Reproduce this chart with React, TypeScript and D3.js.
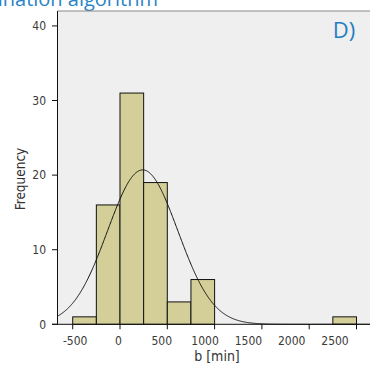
import React from "react";
import * as d3 from "d3";

const binStarts = [-500, -250, 0, 250, 500, 750, 2250];
const binWidth = 250;
const counts = [1, 16, 31, 19, 3, 6, 1];
const xTicks = [-500, 0, 500, 1000, 1500, 2000, 2500];
const yTicks = [0, 10, 20, 30, 40];
const fitMean = 240;
const fitSd = 371;
const titleText = "determination algorithm";
const panelLabel = "D)";
const xLabel = "b [min]";
const yLabel = "Frequency";

const W = 370;
const H = 367;
const left = 57.5;
const top = 11;
const bottom = 324.3;
const right = 400;

export default function App() {
  const x = d3.scaleLinear().domain([0, 500]).range([120, 167.3]);
  const xMin = x.invert(left);
  const xMax = x.invert(right);
  const xl = d3.scaleLinear().domain([0, 500]).range([118.5, 161.8]);
  const y = d3.scaleLinear().domain([0, 42]).range([bottom, top]);
  const N = d3.sum(counts);
  const pdf = (v: number) =>
    (N * binWidth) / (fitSd * Math.sqrt(2 * Math.PI)) *
    Math.exp(-0.5 * ((v - fitMean) / fitSd) ** 2);
  const pts = d3.range(xMin, xMax, 5).map((v) => [v, pdf(v)] as [number, number]);
  const line = d3
    .line<[number, number]>()
    .x((d) => x(d[0]))
    .y((d) => y(d[1]))
    .curve(d3.curveBasis);
  const font = "'DejaVu Sans Condensed','Noto Sans', sans-serif";
  return (
    <svg
      width={W}
      height={H}
      style={{ position: "absolute", left: 0, top: 0, background: "#fff" }}
    >
      <text x={158} y={5.5} textAnchor="end" fill="#2a83c6" fontFamily="'Open Sans',sans-serif" fontSize={20}>
        {titleText}
      </text>
      <rect x={left} y={top} width={right - left} height={bottom - top} fill="#efefef" />
      <line x1={left} x2={right} y1={top} y2={top} stroke="#888" strokeWidth={1} />
      {binStarts.map((b, i) => (
        <rect
          key={i}
          x={x(b)}
          y={y(counts[i])}
          width={x(b + binWidth) - x(b)}
          height={y(0) - y(counts[i])}
          fill="#d4cf99"
          stroke="#111"
          strokeWidth={1}
        />
      ))}
      <path d={line(pts) || ""} fill="none" stroke="#111" strokeWidth={1} />
      <line x1={left} x2={left} y1={top} y2={bottom} stroke="#111" strokeWidth={1} />
      <line x1={52} x2={right} y1={bottom} y2={bottom} stroke="#111" strokeWidth={1} />
      {yTicks.map((t) => (
        <g key={t}>
          <line x1={52} x2={left} y1={y(t)} y2={y(t)} stroke="#111" />
          <text x={46} y={y(t)} dy="0.35em" textAnchor="end" fontFamily={font} fontSize={12} fill="#3a3a3a">
            {t}
          </text>
        </g>
      ))}
      {xTicks.map((t) => (
        <g key={t}>
          <line x1={x(t)} x2={x(t)} y1={bottom} y2={bottom + 5} stroke="#111" />
          <text x={xl(t)} y={345} textAnchor="middle" fontFamily={font} fontSize={12} fill="#3a3a3a">
            {t}
          </text>
        </g>
      ))}
      <text x={217} y={360.5} textAnchor="middle" fontFamily={font} fontSize={14} fill="#333">
        {xLabel}
      </text>
      <text
        transform={`translate(25,179) rotate(-90)`}
        textAnchor="middle"
        fontFamily={font}
        fontSize={13.5}
        fill="#333"
      >
        {yLabel}
      </text>
      <text x={344} y={38} textAnchor="middle" fill="#1f7fc4" fontFamily="'Open Sans',sans-serif" fontSize={22}>
        {panelLabel}
      </text>
    </svg>
  );
}
